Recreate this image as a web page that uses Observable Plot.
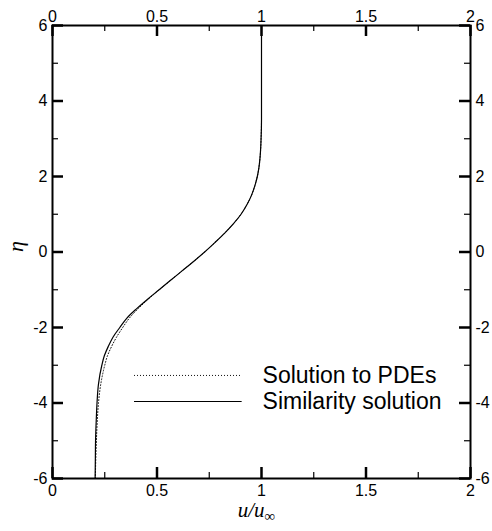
<!DOCTYPE html>
<html>
<head>
<meta charset="utf-8">
<script src="https://cdn.jsdelivr.net/npm/d3@7"></script>
<script src="https://cdn.jsdelivr.net/npm/@observablehq/plot@0.6"></script>
<style>
  body { margin: 0; background: #fff; }
</style>
</head>
<body>
<div id="chart"></div>
<script>
// ---- data ----
const eta = [-6, -5.5, -5, -4.5, -4, -3.5, -3, -2.75, -2.5, -2.25, -2, -1.75, -1.5, -1.25, -1, -0.75, -0.5, -0.25, 0, 0.25, 0.5, 0.75, 1, 1.25, 1.5, 1.75, 2, 2.25, 2.5, 3, 3.5, 4, 5, 6];
const similarityU = [0.204, 0.205, 0.206, 0.209, 0.213, 0.220, 0.236, 0.248, 0.267, 0.290, 0.322, 0.356, 0.403, 0.455, 0.510, 0.565, 0.620, 0.675, 0.728, 0.777, 0.824, 0.866, 0.902, 0.930, 0.952, 0.968, 0.980, 0.988, 0.993, 0.998, 1.0, 1.0, 1.0, 1.0];
const pdeU = [0.205, 0.207, 0.210, 0.214, 0.220, 0.231, 0.250, 0.263, 0.283, 0.307, 0.336, 0.368, 0.410, 0.458, 0.511, 0.565, 0.620, 0.675, 0.728, 0.777, 0.824, 0.866, 0.902, 0.930, 0.952, 0.968, 0.980, 0.988, 0.993, 0.998, 1.0, 1.0, 1.0, 1.0];
const legendLabels = ["Solution to PDEs", "Similarity solution"];
const xMajorTicks = [0, 0.5, 1, 1.5, 2];
const xMinorTicks = [0.25, 0.75, 1.25, 1.75];
const yMajorTicks = [-6, -4, -2, 0, 2, 4, 6];
const yMinorTicks = [-5, -3, -1, 1, 3, 5];

const sim = eta.map((e, i) => ({eta: e, u: similarityU[i]}));
const pde = eta.map((e, i) => ({eta: e, u: pdeU[i]}));
const legend = legendLabels.map((label, i) => ({label, i}));

const sans = "'Liberation Sans', Arial, Helvetica, sans-serif";
const serif = "'Liberation Serif', 'DejaVu Serif', serif";
const fmt = d => String(d);

const W = 492, H = 531, mL = 52, mR = 22, mT = 25, mB = 53;
const plotW = W - mL - mR, plotH = H - mT - mB;
const xDom = [0, 2], yDom = [-6, 6];
// tick lengths (pixels) converted to data units
const major = 11, minor = 6;
const xPerPx = (xDom[1] - xDom[0]) / plotW, yPerPx = (yDom[1] - yDom[0]) / plotH;

function xTicks(ticks, len, sw) {
  return [
    Plot.ruleX(ticks, {x: d => d, y1: yDom[0], y2: yDom[0] + len * yPerPx, stroke: "black", strokeWidth: sw}),
    Plot.ruleX(ticks, {x: d => d, y1: yDom[1], y2: yDom[1] - len * yPerPx, stroke: "black", strokeWidth: sw})
  ];
}
function yTicks(ticks, len, sw) {
  return [
    Plot.ruleY(ticks, {y: d => d, x1: xDom[0], x2: xDom[0] + len * xPerPx, stroke: "black", strokeWidth: sw}),
    Plot.ruleY(ticks, {y: d => d, x1: xDom[1], x2: xDom[1] - len * xPerPx, stroke: "black", strokeWidth: sw})
  ];
}
const legendY = d => -3.27 - 0.69 * d.i;

const chart = Plot.plot({
  width: W,
  height: H,
  marginLeft: mL,
  marginRight: mR,
  marginTop: mT,
  marginBottom: mB,
  style: {fontFamily: sans, fontSize: "16px", color: "black", background: "white"},
  x: {domain: xDom},
  y: {domain: yDom},
  marks: [
    Plot.line(pde, {x: "u", y: "eta", stroke: "#111", strokeWidth: 1, strokeDasharray: "1 2", curve: "monotone-y"}),
    Plot.line(sim, {x: "u", y: "eta", stroke: "black", strokeWidth: 1.2, curve: "monotone-y"}),
    // legend: dotted sample, solid sample, labels
    Plot.link(legend.filter(d => d.i === 0), {x1: 0.39, x2: 0.905, y1: legendY, y2: legendY, stroke: "#111", strokeWidth: 1, strokeDasharray: "1 2"}),
    Plot.link(legend.filter(d => d.i === 1), {x1: 0.39, x2: 0.905, y1: legendY, y2: legendY, stroke: "black", strokeWidth: 1.2}),
    Plot.text(legend, {x: 1.005, y: legendY, text: "label", textAnchor: "start", fontSize: 23, fill: "black"}),
    // tick labels
    Plot.axisX({anchor: "bottom", ticks: xMajorTicks, tickSize: 0, tickPadding: 6, tickFormat: fmt, label: null, fontSize: 16, fill: "black"}),
    Plot.axisX({anchor: "top", ticks: xMajorTicks, tickSize: 0, tickPadding: 4, tickFormat: fmt, label: null, fontSize: 16, fill: "black"}),
    Plot.axisY({anchor: "left", ticks: yMajorTicks, tickSize: 0, tickPadding: 5, tickFormat: fmt, label: null, fontSize: 16, fill: "black"}),
    Plot.axisY({anchor: "right", ticks: yMajorTicks, tickSize: 0, tickPadding: 5, tickFormat: fmt, label: null, fontSize: 16, fill: "black"}),
    Plot.frame({stroke: "black", strokeWidth: 2}),
    // inward ticks on all four sides
    ...xTicks(xMajorTicks, major, 2.5),
    ...xTicks(xMinorTicks, minor, 1.2),
    ...yTicks(yMajorTicks, major, 2.5),
    ...yTicks(yMinorTicks, minor, 1.2),
    // axis titles
    Plot.text(["η"], {frameAnchor: "left", dx: -37, rotate: -90, fontSize: 22, fontFamily: serif, fontStyle: "italic", fill: "black"}),
    Plot.text(["u/u"], {frameAnchor: "bottom", dy: 38, dx: -5, fontSize: 21, fontFamily: serif, fontStyle: "italic", fill: "black"})
  ]
});

// add the subscript ∞ to the x-axis title
d3.select(chart).selectAll("text")
  .filter(function() { return this.textContent === "u/u"; })
  .append("tspan")
  .attr("font-style", "normal")
  .attr("font-size", 15)
  .attr("dy", 4)
  .text("∞");

document.getElementById("chart").appendChild(chart);
</script>
</body>
</html>
